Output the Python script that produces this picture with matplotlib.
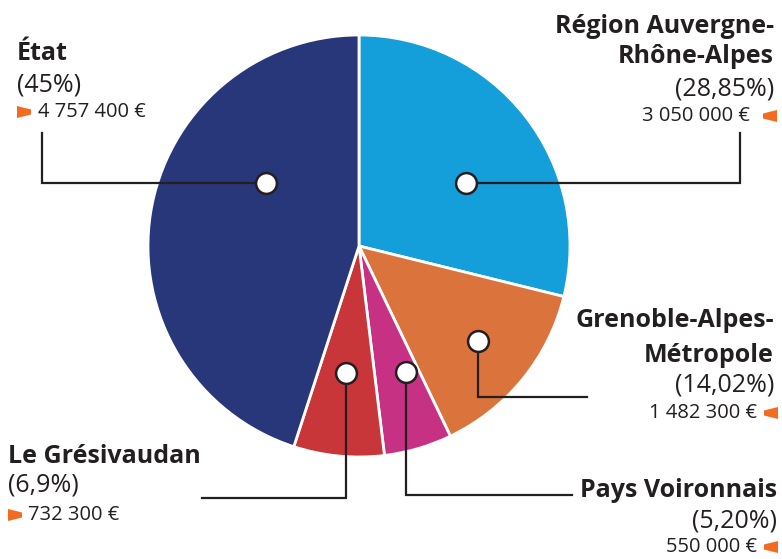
import matplotlib.pyplot as plt
from matplotlib.patches import Polygon

# data
names = ["Région Auvergne-\nRhône-Alpes", "Grenoble-Alpes-\nMétropole", "Pays Voironnais",
         "Le Grésivaudan", "État"]
pcts = ["(28,85%)", "(14,02%)", "(5,20%)", "(6,9%)", "(45%)"]
amounts = [3050000, 1482300, 550000, 732300, 4757400]
amount_labels = ["3 050 000 €", "1 482 300 €", "550 000 €", "732 300 €", "4 757 400 €"]
colors = ["#149fdb", "#db743c", "#c73184", "#c8363a", "#283779"]

ink = "#231f20"
orange = "#f26b21"
font = "Open Sans"
title_size = 18
pct_size = 18
amount_size = 14.5

fig = plt.figure(figsize=(7.82, 5.59), dpi=100)
ax = fig.add_axes([0, 0, 1, 1])

# pie in pixel coords, y axis flipped -> counterclock in data = clockwise on screen
ax.pie(amounts, colors=colors, startangle=-90, counterclock=True,
       center=(359, 246), radius=211,
       wedgeprops=dict(edgecolor="white", linewidth=2))
ax.set_xlim(0, 782)
ax.set_ylim(559, 0)
ax.set_aspect("equal")
ax.axis("off")

# connectors: dot position, path of the line
connectors = [
    [(466, 183), (740, 183), (740, 133)],
    [(478, 341), (478, 397), (587, 397)],
    [(406, 372), (406, 495), (572, 495)],
    [(346, 373), (346, 498), (202, 498)],
    [(266, 183), (42, 183), (42, 133)],
]
for pts in connectors:
    xs, ys = zip(*pts)
    ax.plot(xs, ys, color=ink, lw=1.6, solid_joinstyle="miter", zorder=3)
    ax.plot(xs[0], ys[0], "o", ms=15, mfc="white", mec=ink, mew=1.8, zorder=4)


def flag(x, y, left=False):
    # small orange pointer in front of / after the amounts
    if left:
        pts = [(x + 14, y - 6), (x, y - 2.5), (x, y + 2.5), (x + 14, y + 6)]
    else:
        pts = [(x, y - 6), (x + 14, y - 2.5), (x + 14, y + 2.5), (x, y + 6)]
    ax.add_patch(Polygon(pts, closed=True, color=orange, lw=0, zorder=5))


def block(i, x, ys, ha):
    title_lines = names[i].split("\n")
    for k, line in enumerate(title_lines):
        ax.text(x, ys[k], line, ha=ha, va="baseline", fontsize=title_size,
                fontweight="bold", family=font, color=ink)
    ax.text(x, ys[len(title_lines)], pcts[i], ha=ha, va="baseline",
            fontsize=pct_size, family=font, color=ink)


def amount(i, x, y, ha):
    ax.text(x, y, amount_labels[i], ha=ha, va="baseline", fontsize=amount_size,
            family=font, color=ink)


# Région
block(0, 774, [33, 63, 96], "right")
amount(0, 750, 121, "right")
flag(763, 116, left=True)

# Grenoble
block(1, 774, [327, 362, 392], "right")
amount(1, 757, 418, "right")
flag(764, 413, left=True)

# Pays Voironnais
block(2, 777, [497, 527], "right")
amount(2, 757, 552, "right")
flag(764, 547, left=True)

# Le Grésivaudan
block(3, 8, [463, 492], "left")
amount(3, 28, 520, "left")
flag(8, 515)

# État
block(4, 17, [60, 92], "left")
amount(4, 38, 117, "left")
flag(17, 112)

fig.savefig("out.png", dpi=100)
